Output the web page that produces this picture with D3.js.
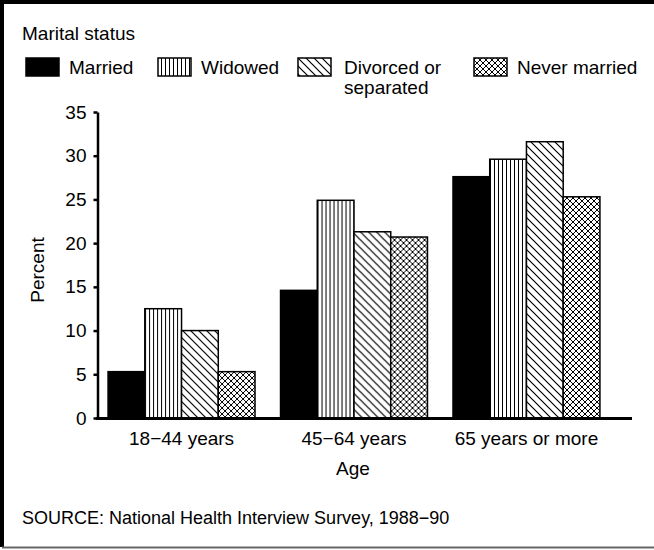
<!DOCTYPE html>
<html>
<head>
<meta charset="utf-8">
<script src="https://cdn.jsdelivr.net/npm/d3@7"></script>
<style>
  body { margin: 0; background: #fff; }
  text { font-family: "Liberation Sans", Arial, sans-serif; fill: #000; }
</style>
</head>
<body>
<div id="chart"></div>
<script>
const ageGroups = ["18\u221244 years", "45\u221264 years", "65 years or more"];
const statuses = ["Married", "Widowed", "Divorced or separated", "Never married"];
const married = [5.3, 14.6, 27.6];
const widowed = [12.5, 24.9, 29.6];
const divorced = [10.0, 21.3, 31.6];
const neverMarried = [5.3, 20.7, 25.3];
const yTicks = [0, 5, 10, 15, 20, 25, 30, 35];

const seriesValues = [married, widowed, divorced, neverMarried];
const fills = ["#000", "url(#pVert)", "url(#pDiag)", "url(#pCross)"];
const fontSize = "19px";

const width = 654, height = 550;
const svg = d3.select("#chart").append("svg")
    .attr("width", width)
    .attr("height", height);

// hatch patterns
const defs = svg.append("defs");
const vert = defs.append("pattern").attr("id", "pVert")
    .attr("patternUnits", "userSpaceOnUse").attr("width", 4).attr("height", 4);
vert.append("rect").attr("width", 4).attr("height", 4).attr("fill", "#fff");
vert.append("line").attr("x1", 1.5).attr("x2", 1.5).attr("y1", 0).attr("y2", 4)
    .attr("stroke", "#000").attr("stroke-width", 1);

const diag = defs.append("pattern").attr("id", "pDiag")
    .attr("patternUnits", "userSpaceOnUse").attr("width", 8).attr("height", 8);
diag.append("rect").attr("width", 8).attr("height", 8).attr("fill", "#fff");
diag.append("path").attr("d", "M0,0L8,8M-4,4L4,12M4,-4L12,4")
    .attr("stroke", "#000").attr("stroke-width", 1.2);

const cross = defs.append("pattern").attr("id", "pCross")
    .attr("patternUnits", "userSpaceOnUse").attr("width", 6).attr("height", 6);
cross.append("rect").attr("width", 6).attr("height", 6).attr("fill", "#fff");
cross.append("path").attr("d", "M0,0L6,6M-3,3L3,9M3,-3L9,3M0,6L6,0M-3,3L3,-3M3,9L9,3")
    .attr("stroke", "#000").attr("stroke-width", 1);

// frame
svg.append("path")
    .attr("d", `M2,${height - 3}V2H${width + 5}`)
    .attr("fill", "none").attr("stroke", "#000").attr("stroke-width", 4);
svg.append("line")
    .attr("x1", 2).attr("x2", width).attr("y1", height - 2.5).attr("y2", height - 2.5)
    .attr("stroke", "#666").attr("stroke-width", 2);

// scales
const y = d3.scaleLinear().domain([0, 35]).range([418, 112]);
const x0 = d3.scaleBand().domain(ageGroups)
    .range([96, 612]).paddingInner(0.148).paddingOuter(0.07);
const x1 = d3.scaleBand().domain(d3.range(statuses.length))
    .range([0, x0.bandwidth()]);

// bars
const groups = svg.append("g").selectAll("g")
    .data(ageGroups)
    .join("g")
    .attr("transform", d => `translate(${x0(d)},0)`);

groups.selectAll("rect")
    .data((d, gi) => seriesValues.map((vals, si) => ({ si, value: vals[gi] })))
    .join("rect")
    .attr("x", d => x1(d.si))
    .attr("y", d => y(d.value))
    .attr("width", x1.bandwidth())
    .attr("height", d => y(0) - y(d.value))
    .attr("fill", d => fills[d.si])
    .attr("stroke", "#000")
    .attr("stroke-width", 1.5);

// y axis
const yAxis = svg.append("g")
    .attr("transform", "translate(97.5,0)")
    .call(d3.axisLeft(y).tickValues(yTicks).tickSize(4).tickPadding(7).tickSizeOuter(0));
yAxis.select(".domain").attr("stroke-width", 2.5);
yAxis.selectAll(".tick line").attr("stroke-width", 2.5);
yAxis.selectAll("text").style("font-size", fontSize).style("font-family", "'Liberation Sans', Arial, sans-serif");

// x axis
const xAxis = svg.append("g")
    .attr("transform", "translate(0,418.5)")
    .call(d3.axisBottom(x0).tickSize(0).tickPadding(13));
xAxis.select(".domain").remove();
xAxis.selectAll("text").style("font-size", fontSize).style("font-family", "'Liberation Sans', Arial, sans-serif");
svg.append("line")
    .attr("x1", 96).attr("x2", 632).attr("y1", 418.5).attr("y2", 418.5)
    .attr("stroke", "#000").attr("stroke-width", 3);

// axis titles
svg.append("text")
    .attr("transform", "translate(44,270) rotate(-90)")
    .attr("text-anchor", "middle")
    .style("font-size", fontSize)
    .text("Percent");
svg.append("text")
    .attr("x", 353).attr("y", 475)
    .attr("text-anchor", "middle")
    .style("font-size", fontSize)
    .text("Age");

// legend
svg.append("text").attr("x", 22).attr("y", 40).style("font-size", fontSize).text("Marital status");
const legendX = [26, 158, 298, 474];
statuses.forEach((s, i) => {
    svg.append("rect")
        .attr("x", legendX[i]).attr("y", 58).attr("width", 33).attr("height", 18)
        .attr("fill", fills[i]).attr("stroke", "#000").attr("stroke-width", 1.5);
    const t = svg.append("text").attr("x", legendX[i] + 43).attr("y", 74).style("font-size", fontSize);
    if (s === "Divorced or separated") {
        t.append("tspan").attr("x", legendX[i] + 46).text("Divorced or");
        t.append("tspan").attr("x", legendX[i] + 46).attr("dy", 20).text("separated");
    } else {
        t.text(s);
    }
});

// source
svg.append("text").attr("x", 22).attr("y", 524).style("font-size", "18px")
    .text("SOURCE: National Health Interview Survey, 1988\u221290");
</script>
</body>
</html>
